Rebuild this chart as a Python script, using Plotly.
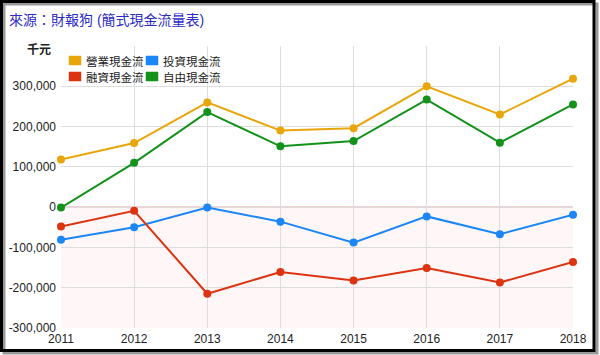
import plotly.graph_objects as go

years = [2011, 2012, 2013, 2014, 2015, 2016, 2017, 2018]
operating_cf = [118000, 159000, 260000, 190000, 196000, 300000, 230000, 319000]
investing_cf = [-81000, -50000, -1000, -36000, -88000, -23000, -67000, -19000]
financing_cf = [-48000, -9000, -215000, -161000, -182000, -151000, -187000, -136000]
free_cf = [-1000, 110000, 236000, 151000, 164000, 267000, 160000, 255000]

names = ["營業現金流", "投資現金流", "融資現金流", "自由現金流"]
series = [operating_cf, investing_cf, financing_cf, free_cf]
colors = ["#E8A60A", "#1B86F5", "#DC3310", "#12921A"]

y_ticks = [-300000, -200000, -100000, 0, 100000, 200000, 300000]
y_tick_text = [f"{v:,}" for v in y_ticks]

W, H = 600, 355
L, R, T, B = 61, 27, 46, 27
pw, ph = W - L - R, H - T - B

def px_x(p):
    return (p - L) / pw

def px_y(p):
    return 1 - (p - T) / ph

FONT = "Arial, Liberation Sans, Noto Sans CJK TC, sans-serif"

fig = go.Figure()

draw_order = [0, 3, 1, 2]
for i in draw_order:
    fig.add_trace(go.Scatter(
        x=years, y=series[i], mode="lines+markers", name=names[i],
        line=dict(color=colors[i], width=2),
        marker=dict(color=colors[i], size=8),
        hoverinfo="x+y+name", cliponaxis=False,
    ))

fig.update_layout(
    width=W, height=H,
    margin=dict(l=L, r=R, t=T, b=B, autoexpand=False),
    paper_bgcolor="white", plot_bgcolor="white",
    font=dict(family=FONT, size=12, color="#222222"),
    showlegend=False,
    xaxis=dict(
        range=[years[0], years[-1]], tickvals=years, ticktext=[str(y) for y in years],
        showgrid=True, gridcolor="#dddddd", gridwidth=1, zeroline=False,
        showline=False, tickfont=dict(size=12, color="#222222"), ticks="",
        ticklabelstandoff=2,
    ),
    yaxis=dict(
        range=[-300000, 400000], tickvals=y_ticks + [400000], ticktext=y_tick_text + [""],
        showgrid=True, gridcolor="#dddddd", gridwidth=1, zeroline=False,
        showline=False, tickfont=dict(size=12, color="#222222"), ticks="",
        ticklabelstandoff=4,
    ),
    hovermode="closest",
)

fig.add_shape(type="rect", xref="paper", yref="y", x0=0, x1=1, y0=-300000, y1=0,
              fillcolor="#FFF6F8", line=dict(width=0), layer="below")
fig.add_shape(type="line", xref="paper", yref="y", x0=0, x1=1, y0=0, y1=0,
              line=dict(color="#E8A0AA", width=1.5), layer="below")

# custom legend: 2 columns x 2 rows
col_x = [69, 146]
row_y = [56, 72]
for i, (name, col) in enumerate(zip(names, colors)):
    cx = col_x[i % 2]
    ry = row_y[i // 2]
    fig.add_shape(type="rect", xref="paper", yref="paper",
                  x0=px_x(cx), x1=px_x(cx + 12), y0=px_y(ry), y1=px_y(ry + 9),
                  fillcolor=col, line=dict(color=col, width=0.5))
    fig.add_annotation(text=name, xref="paper", yref="paper",
                       x=px_x(cx + 15), y=px_y(ry + 5), xanchor="left", yanchor="middle",
                       showarrow=False, font=dict(size=11.5, color="#222222", family=FONT))

fig.add_shape(type="rect", xref="paper", yref="paper",
              x0=px_x(4), x1=px_x(597), y0=px_y(4), y1=px_y(353),
              line=dict(color="#999999", width=3), fillcolor="rgba(0,0,0,0)")
fig.add_shape(type="rect", xref="paper", yref="paper",
              x0=px_x(1.5), x1=px_x(594), y0=px_y(1.5), y1=px_y(350.5),
              line=dict(color="#000000", width=3), fillcolor="rgba(0,0,0,0)")

fig.add_annotation(text="來源：財報狗 (簡式現金流量表)", xref="paper", yref="paper",
                   x=px_x(7), y=px_y(20), xanchor="left", yanchor="middle",
                   showarrow=False, font=dict(size=14, color="#2B2BC8", family=FONT))
fig.add_annotation(text="<b>千元</b>", xref="paper", yref="paper",
                   x=px_x(53), y=px_y(50), xanchor="right", yanchor="middle",
                   showarrow=False, font=dict(size=12, color="#222222", family=FONT))

fig.write_html("out.html", config={"displayModeBar": False},
               post_script="document.body.style.margin='0';document.body.style.overflow='hidden';")
